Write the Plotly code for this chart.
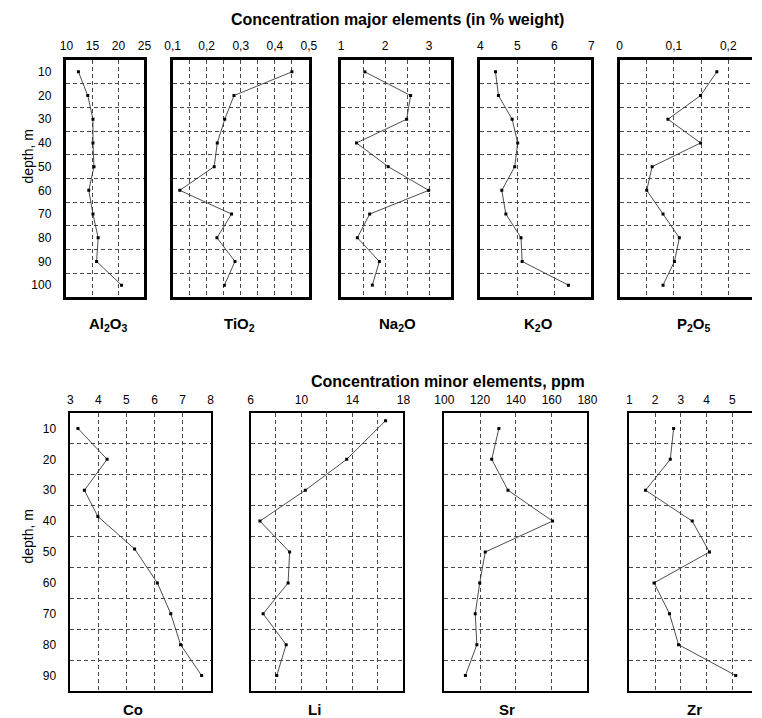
import numpy as np
import plotly.graph_objects as go

W, H = 762, 718

# ---------------- data ----------------
depth_major = [10, 20, 30, 40, 50, 60, 70, 80, 90, 100]
al2o3 = [12.3, 14.1, 15.1, 15.1, 15.3, 14.3, 15.1, 16.1, 15.8, 20.6]
tio2 = [0.45, 0.28, 0.253, 0.231, 0.222, 0.121, 0.273, 0.230, 0.283, 0.252]
na2o = [1.54, 2.58, 2.49, 1.35, 2.07, 2.99, 1.65, 1.37, 1.87, 1.71]
k2o = [4.41, 4.49, 4.86, 5.01, 4.93, 4.58, 4.69, 5.10, 5.13, 6.38]
p2o5 = [0.179, 0.149, 0.089, 0.149, 0.060, 0.050, 0.080, 0.110, 0.101, 0.080]

depth_minor = [10, 20, 30, 40, 50, 60, 70, 80, 90]
co_depth = [10, 20, 30, 38.5, 49, 60, 70, 80, 90]
co = [3.27, 4.31, 3.50, 3.98, 5.29, 6.10, 6.58, 6.93, 7.68]
li_depth = [7.5, 20, 30, 40, 50, 60, 70, 80, 90]
li = [16.6, 13.55, 10.3, 6.74, 9.07, 8.95, 6.99, 8.8, 8.06]
sr = [130.5, 126.5, 135.6, 160.5, 122.9, 119.8, 117.3, 118.2, 111.8]
zr = [2.72, 2.59, 1.63, 3.44, 4.11, 1.96, 2.56, 2.91, 5.13]

depth_ticks = [10, 20, 30, 40, 50, 60, 70, 80, 90, 100]
depth_ticks_minor = [10, 20, 30, 40, 50, 60, 70, 80, 90]

# tick labels
al_ticks = [10, 15, 20, 25]
ti_ticks = [0.1, 0.2, 0.3, 0.4, 0.5]
ti_text = ["0,1", "0,2", "0,3", "0,4", "0,5"]
na_ticks = [1, 2, 3]
k_ticks = [4, 5, 6, 7]
p_ticks = [0, 0.1, 0.2]
p_text = ["0", "0,1", "0,2"]
co_ticks = [3, 4, 5, 6, 7, 8]
li_ticks = [6, 10, 14, 18]
sr_ticks = [100, 120, 140, 160, 180]
zr_ticks = [1, 2, 3, 4, 5]

labels_top = ["Al<sub>2</sub>O<sub>3</sub>", "TiO<sub>2</sub>", "Na<sub>2</sub>O",
              "K<sub>2</sub>O", "P<sub>2</sub>O<sub>5</sub>"]
labels_bot = ["Co", "Li", "Sr", "Zr"]
title_top = "Concentration major elements (in % weight)"
title_bot = "Concentration minor elements, ppm"
ytitle = "depth, m"

# ---------------- layout helpers ----------------
def px_x(p):
    return p / W

def px_y(p):
    return 1 - p / H

FONT = "Liberation Sans, Arial, sans-serif"
GRID = "#4a4a4a"
DASH = "4px,3px"

# panel specs: (values, depths, xrange, tickvals, ticktext, gridstep, x-pixels, row, cut)
panels = [
    (al2o3, depth_major, [10, 25], al_ticks, None, 5, (58, 138), 0, False),
    (tio2, depth_major, [0.1, 0.5], ti_ticks, ti_text, 0.05, (167, 307), 0, False),
    (na2o, depth_major, [1, 3.5], na_ticks, None, 0.5, (340, 453), 0, False),
    (k2o, depth_major, [4, 7], k_ticks, None, 1, (483, 597), 0, False),
    (p2o5, depth_major, [0, 0.2437], p_ticks, p_text, 0.05, (626, 762), 0, True),
    (co, co_depth, [3, 8], co_ticks, None, 1, (62, 206), 1, False),
    (li, li_depth, [6, 18], li_ticks, None, 2, (247, 404), 1, False),
    (sr, depth_minor, [100, 180], sr_ticks, None, 20, (446, 593), 1, False),
    (zr, depth_minor, [1, 5.76], zr_ticks, None, 1, (636, 762), 1, True),
]

rows = [
    dict(ypx=(60, 297), yrange=[105, 5], yticks=depth_ticks, lw=2.5),
    dict(ypx=(413, 691), yrange=[95, 5], yticks=depth_ticks_minor, lw=1.5),
]

fig = go.Figure()
layout = dict(
    width=W, height=H, margin=dict(l=0, r=0, t=0, b=0),
    paper_bgcolor="white", plot_bgcolor="white", showlegend=False,
    font=dict(family=FONT, color="black", size=12),
)

first_in_row = {0: 0, 1: 5}
for i, (vals, deps, xr, tv, tt, step, xpx, row, cut) in enumerate(panels):
    n = i + 1
    xa = "x" if n == 1 else f"x{n}"
    ya = "y" if n == 1 else f"y{n}"
    rw = rows[row]
    fig.add_trace(go.Scatter(
        x=vals, y=deps, xaxis=xa, yaxis=ya, mode="lines+markers",
        line=dict(color="#3a3a3a", width=0.9),
        marker=dict(symbol="square", size=3, color="black"),
        hoverinfo="x+y",
    ))
    xgrid = list(np.arange(xr[0] + step, xr[1] - 1e-9, step))
    xgrid = [g for g in xgrid if xr[1] - g > step * 0.05]
    ygrid = list(np.arange(min(rw["yrange"]) + 10, max(rw["yrange"]) - 1e-9, 10))
    xkey = "xaxis" if n == 1 else f"xaxis{n}"
    ykey = "yaxis" if n == 1 else f"yaxis{n}"
    layout[xkey] = dict(
        domain=[px_x(xpx[0]), min(1.0, px_x(xpx[1]))],
        range=xr, anchor=ya, side="top",
        tickmode="array", tickvals=tv, ticktext=tt if tt else [str(v) for v in tv],
        ticks="", ticklabelstandoff=2,
        tickfont=dict(family=FONT, size=12, color="black"),
        showgrid=False, zeroline=False,
        showline=True, linecolor="black", linewidth=rw["lw"], mirror=True,
        minor=dict(tickmode="array", tickvals=xgrid, showgrid=True,
                   gridcolor=GRID, griddash=DASH, gridwidth=1, ticks=""),
        fixedrange=True,
    )
    is_first = (i == first_in_row[row])
    layout[ykey] = dict(
        domain=[px_y(rw["ypx"][1]), px_y(rw["ypx"][0])],
        range=rw["yrange"], anchor=xa,
        tickmode="array", tickvals=rw["yticks"],
        showticklabels=is_first, ticks="", ticklabelstandoff=10,
        tickfont=dict(family=FONT, size=12, color="black"),
        showgrid=False, zeroline=False,
        showline=True, linecolor="black", linewidth=rw["lw"], mirror=(not cut),
        minor=dict(tickmode="array", tickvals=ygrid, showgrid=True,
                   gridcolor=GRID, griddash=DASH, gridwidth=1, ticks=""),
        fixedrange=True,
    )

ann = []
def add_text(text, xp, yp, size, bold=False, angle=0):
    ann.append(dict(
        text=f"<b>{text}</b>" if bold else text,
        x=px_x(xp), y=px_y(yp), xref="paper", yref="paper",
        xanchor="center", yanchor="middle", showarrow=False, textangle=angle,
        font=dict(family=FONT, size=size, color="black"),
    ))

add_text(title_top, 398, 19, 16, bold=True)
add_text(title_bot, 450, 381, 16, bold=True)
add_text(ytitle, 18, 157, 14, angle=-90)
add_text(ytitle, 18, 537, 14, angle=-90)
for lab, xp in zip(labels_top, [101, 236, 398, 543, 702]):
    add_text(lab, xp, 324, 15, bold=True)
for lab, xp in zip(labels_bot, [126, 313, 510, 703]):
    add_text(lab, xp, 709, 15, bold=True)

layout["annotations"] = ann
fig.update_layout(**layout)
fig.write_html("out.html")
